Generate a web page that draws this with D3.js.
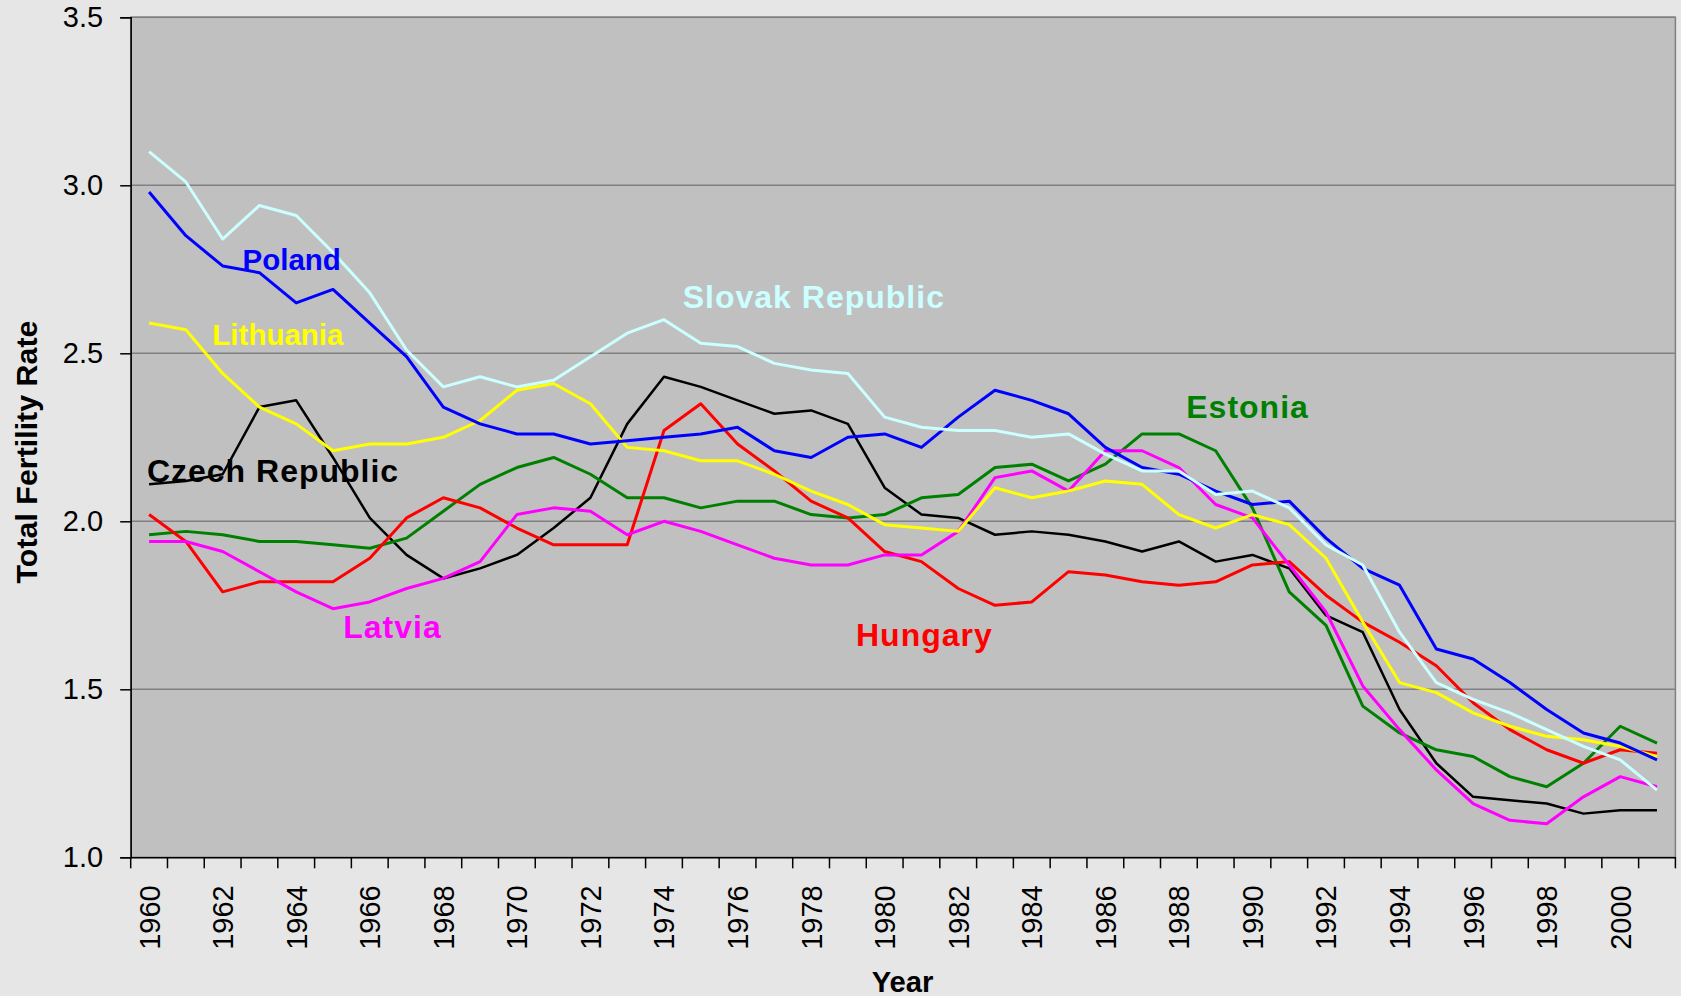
<!DOCTYPE html>
<html>
<head>
<meta charset="utf-8">
<script src="https://cdn.jsdelivr.net/npm/d3@7"></script>
<style>
  html, body { margin: 0; padding: 0; background: #e6e6e6; }
  svg { display: block; font-family: 'Liberation Sans', Arial, sans-serif; }
  .tick text { fill: #000; }
  .lbl { font-weight: bold; }
</style>
</head>
<body>
<div id="chart"></div>
<script>
const years = d3.range(1960, 2002);
const yTicks = [1.0, 1.5, 2.0, 2.5, 3.0, 3.5];

const czech     = [2.11,2.12,2.14,2.34,2.36,2.19,2.01,1.90,1.83,1.86,1.90,1.98,2.07,2.29,2.43,2.40,2.36,2.32,2.33,2.29,2.10,2.02,2.01,1.96,1.97,1.96,1.94,1.91,1.94,1.88,1.90,1.86,1.72,1.67,1.44,1.28,1.18,1.17,1.16,1.13,1.14,1.14];
const estonia   = [1.96,1.97,1.96,1.94,1.94,1.93,1.92,1.95,2.03,2.11,2.16,2.19,2.14,2.07,2.07,2.04,2.06,2.06,2.02,2.01,2.02,2.07,2.08,2.16,2.17,2.12,2.17,2.26,2.26,2.21,2.04,1.79,1.69,1.45,1.37,1.32,1.30,1.24,1.21,1.28,1.39,1.34];
const hungary   = [2.02,1.94,1.79,1.82,1.82,1.82,1.89,2.01,2.07,2.04,1.98,1.93,1.93,1.93,2.27,2.35,2.23,2.15,2.06,2.01,1.91,1.88,1.80,1.75,1.76,1.85,1.84,1.82,1.81,1.82,1.87,1.88,1.78,1.70,1.64,1.57,1.46,1.38,1.32,1.28,1.32,1.31];
const latvia    = [1.94,1.94,1.91,1.85,1.79,1.74,1.76,1.80,1.83,1.88,2.02,2.04,2.03,1.96,2.00,1.97,1.93,1.89,1.87,1.87,1.90,1.90,1.97,2.13,2.15,2.09,2.21,2.21,2.16,2.05,2.01,1.87,1.73,1.51,1.38,1.26,1.16,1.11,1.10,1.18,1.24,1.21];
const lithuania = [2.59,2.57,2.44,2.34,2.29,2.21,2.23,2.23,2.25,2.30,2.39,2.41,2.35,2.22,2.21,2.18,2.18,2.14,2.09,2.05,1.99,1.98,1.97,2.10,2.07,2.09,2.12,2.11,2.02,1.98,2.02,1.99,1.89,1.70,1.52,1.49,1.43,1.39,1.36,1.35,1.33,1.30];
const poland    = [2.98,2.85,2.76,2.74,2.65,2.69,2.59,2.49,2.34,2.29,2.26,2.26,2.23,2.24,2.25,2.26,2.28,2.21,2.19,2.25,2.26,2.22,2.31,2.39,2.36,2.32,2.22,2.16,2.14,2.09,2.05,2.06,1.95,1.86,1.81,1.62,1.59,1.52,1.44,1.37,1.34,1.29];
const slovak    = [3.10,3.01,2.84,2.94,2.91,2.80,2.68,2.51,2.40,2.43,2.40,2.42,2.49,2.56,2.60,2.53,2.52,2.47,2.45,2.44,2.31,2.28,2.27,2.27,2.25,2.26,2.20,2.15,2.15,2.08,2.09,2.04,1.93,1.87,1.67,1.52,1.47,1.43,1.38,1.33,1.29,1.20];

const seriesNames = ['Czech Republic', 'Estonia', 'Hungary', 'Latvia', 'Lithuania', 'Poland', 'Slovak Republic'];
const seriesValues = [czech, estonia, hungary, latvia, lithuania, poland, slovak];
// where each name sits, in chart units (year, rate)
const labelYear = [1959.94, 1988.2, 1979.22, 1965.28, 1961.72, 1962.54, 1974.51];
const labelRate = [2.118, 2.308, 1.63, 1.652, 2.525, 2.748, 2.634];

const colors = ['#000000', '#008000', '#ff0000', '#ff00ff', '#ffff00', '#0000ff', '#ccffff'];

const width = 1681, height = 996;
const margin = {top: 17.3, right: 5.6, bottom: 138.7, left: 130.7};

const svg = d3.select('#chart').append('svg')
  .attr('width', width)
  .attr('height', height)

const x = d3.scaleBand()
  .domain(years)
  .range([margin.left, width - margin.right])
  .padding(0)

const bw = x.bandwidth();
const cx = yr => x(years[0]) + bw / 2 + (yr - years[0]) * bw;

const y = d3.scaleLinear()
  .domain([1, 3.5])
  .range([height - margin.bottom, margin.top])

// plot area
svg.append('rect')
  .attr('x', margin.left)
  .attr('y', margin.top)
  .attr('width', width - margin.left - margin.right)
  .attr('height', height - margin.top - margin.bottom)
  .attr('fill', '#c0c0c0')
  .attr('stroke', '#808080')
  .attr('stroke-width', 1.5)

svg.append('g')
  .selectAll('line')
  .data(yTicks.slice(1))
  .enter()
  .append('line')
  .attr('x1', margin.left)
  .attr('x2', width - margin.right)
  .attr('y1', d => y(d))
  .attr('y2', d => y(d))
  .attr('stroke', '#808080')
  .attr('stroke-width', 1.5)

// y axis
const yAxis = svg.append('g')
  .attr('transform', `translate(${margin.left},0)`)
  .call(d3.axisLeft(y).tickValues(yTicks).tickFormat(d3.format('.1f')).tickSize(10.5).tickPadding(17))

yAxis.selectAll('text').style('font-size', '29px')
yAxis.selectAll('line, path').attr('stroke', '#000').attr('stroke-width', 1.5)

// x axis
const xAxis = svg.append('g')
  .attr('transform', `translate(0,${height - margin.bottom})`)
  .call(d3.axisBottom(x).tickValues(years.filter(d => d % 2 === 0)).tickSize(0).tickPadding(0))

xAxis.select('.domain').attr('stroke', '#000').attr('stroke-width', 1.5)

xAxis.selectAll('.tick text')
  .style('font-size', '29px')
  .attr('text-anchor', 'end')
  .attr('transform', 'translate(0,28) rotate(-90)')
  .attr('x', 0)
  .attr('y', 0)
  .attr('dy', '0.36em')

xAxis.selectAll('.boundary')
  .data(years.map(d => x(d)).concat([x(years[years.length - 1]) + bw]))
  .enter()
  .append('line')
  .attr('class', 'boundary')
  .attr('x1', d => d)
  .attr('x2', d => d)
  .attr('y1', 0)
  .attr('y2', 11)
  .attr('stroke', '#000')
  .attr('stroke-width', 1.5)

// axis titles
svg.append('text')
  .attr('class', 'lbl')
  .attr('transform', 'translate(37,452) rotate(-90)')
  .attr('text-anchor', 'middle')
  .style('font-size', '30.4px')
  .text('Total Fertility Rate')

svg.append('text')
  .attr('class', 'lbl')
  .attr('x', 902.5)
  .attr('y', 991.5)
  .attr('text-anchor', 'middle')
  .style('font-size', '29.2px')
  .text('Year')

// lines
const line = d3.line()
  .x((d, i) => x(years[i]) + bw / 2)
  .y(d => y(d))

svg.append('g')
  .selectAll('path')
  .data(seriesValues)
  .enter()
  .append('path')
  .attr('d', line)
  .attr('fill', 'none')
  .attr('stroke', (d, i) => colors[i])
  .attr('stroke-width', (d, i) => i === 0 ? 2.5 : 3)
  .attr('stroke-linejoin', 'round')

// series names
const plain = d => d === 'Poland' || d === 'Lithuania';

svg.append('g')
  .selectAll('text')
  .data(seriesNames)
  .enter()
  .append('text')
  .attr('class', 'lbl')
  .attr('x', (d, i) => cx(labelYear[i]))
  .attr('y', (d, i) => y(labelRate[i]))
  .attr('fill', (d, i) => colors[i])
  .style('font-size', d => plain(d) ? '29.5px' : '32px')
  .style('letter-spacing', d => plain(d) ? '0px' : '1px')
  .text(d => d)
</script>
</body>
</html>
